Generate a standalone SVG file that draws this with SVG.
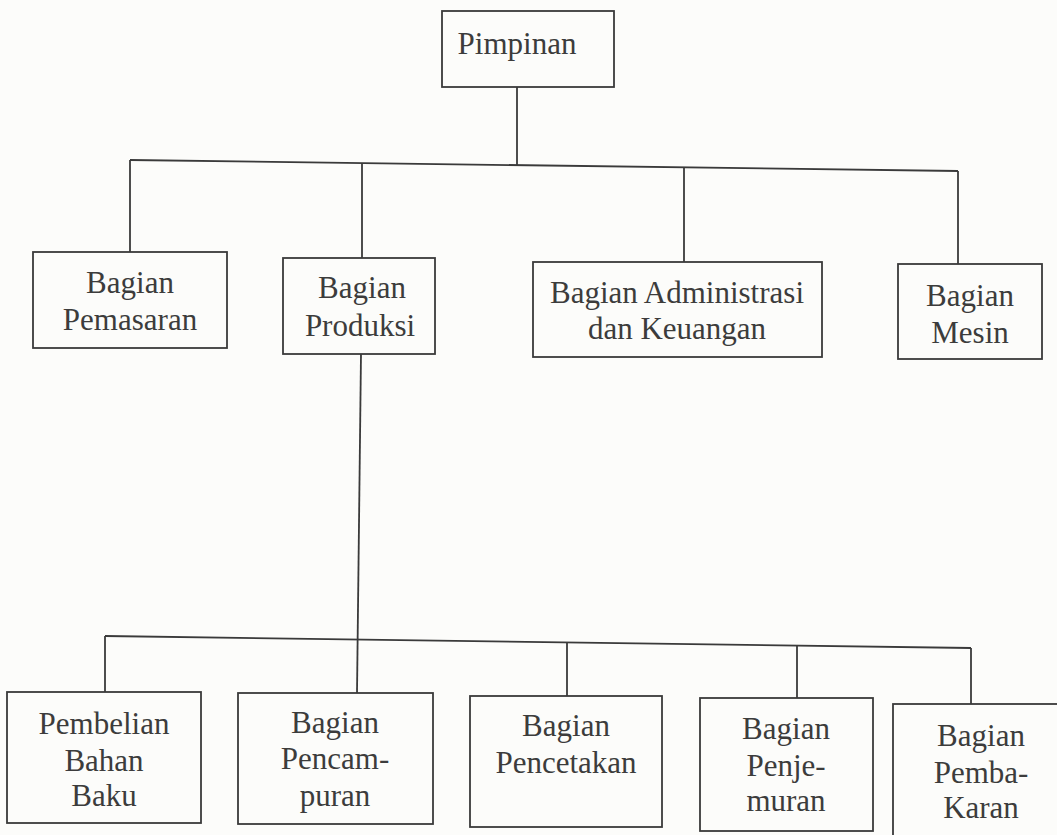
<svg xmlns="http://www.w3.org/2000/svg" width="1057" height="835" viewBox="0 0 1057 835">
<style>
.box{fill:none;stroke:#3a3a3a;stroke-width:1.8}
.ln{fill:none;stroke:#3a3a3a;stroke-width:1.8}
text{font-family:"Liberation Serif","Times New Roman",serif;font-size:31px;fill:#3c3c3c;text-anchor:middle}
</style>
<rect width="1057" height="835" fill="#fcfcfa"/>
<g id="connectors">
<path class="ln" d="M517,87 L517,165"/>
<path class="ln" d="M130,160 L958,171"/>
<path class="ln" d="M130,160 L130,252"/>
<path class="ln" d="M362,163 L362,258"/>
<path class="ln" d="M684,167 L684,262"/>
<path class="ln" d="M958,171 L958,264"/>
<path class="ln" d="M361,354 L357,693"/>
<path class="ln" d="M105,636 L971,648"/>
<path class="ln" d="M105,636 L105,692"/>
<path class="ln" d="M567,643 L567,696"/>
<path class="ln" d="M797,646 L797,698"/>
<path class="ln" d="M971,648 L971,704"/>
</g>
<g id="pimpinan"><rect class="box" x="442" y="11" width="172" height="76"/><text x="517" y="54">Pimpinan</text></g>
<g id="pemasaran"><rect class="box" x="33" y="252" width="194" height="96"/><text x="130" y="293">Bagian</text><text x="130" y="330">Pemasaran</text></g>
<g id="produksi"><rect class="box" x="283" y="258" width="152" height="96"/><text x="362" y="298">Bagian</text><text x="360" y="336">Produksi</text></g>
<g id="administrasi"><rect class="box" x="533" y="262" width="289" height="95"/><text x="677" y="303">Bagian Administrasi</text><text x="677" y="339">dan Keuangan</text></g>
<g id="mesin"><rect class="box" x="898" y="264" width="144" height="95"/><text x="970" y="306">Bagian</text><text x="970" y="343">Mesin</text></g>
<g id="pembelian"><rect class="box" x="7" y="692" width="194" height="131"/><text x="104" y="734">Pembelian</text><text x="104" y="771">Bahan</text><text x="104" y="806">Baku</text></g>
<g id="pencampuran"><rect class="box" x="238" y="693" width="195" height="131"/><text x="335" y="733">Bagian</text><text x="335" y="769">Pencam-</text><text x="335" y="806">puran</text></g>
<g id="pencetakan"><rect class="box" x="470" y="696" width="192" height="131"/><text x="566" y="736">Bagian</text><text x="566" y="773">Pencetakan</text></g>
<g id="penjemuran"><rect class="box" x="700" y="698" width="173" height="133"/><text x="786" y="739">Bagian</text><text x="786" y="776">Penje-</text><text x="786" y="811">muran</text></g>
<g id="pembakaran"><rect class="box" x="893" y="704" width="180" height="140"/><text x="981" y="746">Bagian</text><text x="981" y="783">Pemba-</text><text x="981" y="818">Karan</text></g>
</svg>
